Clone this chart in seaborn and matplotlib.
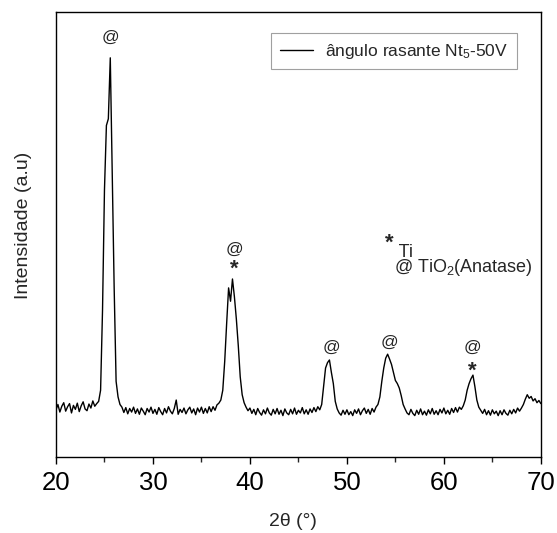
import numpy as np
import pandas as pd
import matplotlib
matplotlib.use("Agg")
import matplotlib.pyplot as plt
import seaborn as sns

# grade de medida 2theta (passo 0.2 grau)
two_theta = np.round(np.arange(20.0, 70.01, 0.2), 1)

# intensidade (u.a.), uma linha = 2 graus
intensity = [
    106, 118, 101, 114, 122, 103, 113, 120, 99, 116,    # 20
    107, 121, 102, 115, 124, 108, 104, 119, 110, 126,   # 22
    114, 120, 125, 150, 330, 600, 745, 760, 897, 640,   # 24
    380, 170, 135, 118, 112, 100, 111, 97, 109, 101,    # 26
    112, 98, 108, 96, 110, 103, 95, 109, 101, 112,      # 28
    98, 107, 96, 111, 102, 95, 109, 99, 113, 103,       # 30
    97, 109, 128, 96, 107, 100, 110, 97, 106, 112,      # 32
    99, 108, 95, 110, 101, 112, 98, 109, 99, 113,       # 34
    102, 113, 105, 117, 121, 128, 150, 215, 300, 380,   # 36
    350, 400, 360, 310, 250, 180, 140, 122, 112, 104,   # 38
    110, 98, 107, 95, 109, 100, 94, 106, 97, 110,       # 40
    99, 94, 107, 97, 109, 96, 105, 93, 108, 99,         # 42
    95, 107, 97, 110, 96, 105, 99, 111, 97, 106,        # 44
    96, 108, 100, 111, 102, 113, 106, 118, 160, 200,    # 46
    212, 218, 190, 165, 125, 108, 99, 94, 105, 96,      # 48
    106, 95, 102, 93, 106, 98, 108, 95, 104, 110,       # 50
    98, 107, 96, 109, 101, 112, 118, 135, 170, 200,     # 52
    222, 231, 220, 208, 190, 172, 165, 155, 138, 118,   # 54
    108, 99, 95, 107, 98, 93, 105, 96, 108, 95,         # 56
    103, 94, 106, 97, 109, 96, 104, 95, 107, 99,        # 58
    110, 97, 105, 96, 109, 100, 111, 101, 112, 107,     # 60
    115, 128, 150, 165, 176, 184, 158, 128, 112, 105,   # 62
    98, 107, 95, 104, 94, 106, 97, 103, 93, 104,        # 64
    95, 106, 98, 94, 105, 97, 107, 99, 110, 103,        # 66
    110, 118, 130, 140, 132, 136, 126, 131, 122, 127,   # 68
    120,                                                # 70
]

# marcadores de fase sobre os picos
anatase_pos = [25.57, 38.45, 48.45, 54.4, 62.9]
anatase_y = [944, 467, 247, 258, 247]
ti_pos = [38.35, 62.9]
ti_top = [445, 217]

xticks_major = [20, 30, 40, 50, 60, 70]
xticks_minor = [25, 35, 45, 55, 65]

sns.set_style("ticks")
plt.rcParams['font.family'] = ['Liberation Sans', 'DejaVu Sans']
plt.rcParams['mathtext.fontset'] = 'custom'
plt.rcParams['mathtext.rm'] = 'Liberation Sans'
plt.rcParams['mathtext.it'] = 'Liberation Sans:italic'

df = pd.DataFrame({'2theta': two_theta, 'I': intensity})

fig = plt.figure(figsize=(5.57, 5.33), dpi=100)
ax = fig.add_axes([0.1005, 0.1426, 0.8705, 0.8349])

sns.lineplot(data=df, x='2theta', y='I', color='black', lw=1.0, ax=ax,
             label='ângulo rasante Nt$_5$-50V')

ax.set_xlim(20, 70)
ax.set_ylim(0, 1000)
ax.set_xticks(xticks_major)
ax.set_xticks(xticks_minor, minor=True)
ax.set_yticks([])
ax.tick_params(axis='x', which='major', direction='out', length=5, width=1,
               labelsize=18.5, pad=5, colors='black')
ax.tick_params(axis='x', which='minor', direction='out', length=3.5, width=1)
for s in ax.spines.values():
    s.set_linewidth(1.0)
    s.set_color('black')

ax.set_xlabel('2θ (°)', fontsize=14)
ax.xaxis.set_label_coords(0.489, -0.145)
ax.xaxis.label.set_va('center')
ax.set_ylabel('Intensidade (a.u)', fontsize=14)
ax.yaxis.set_label_coords(-0.068, 0.52)
ax.yaxis.label.set_va('center')

for x, y in zip(anatase_pos, anatase_y):
    ax.text(x, y, '@', fontsize=12.5, ha='center', va='center')
for x, y in zip(ti_pos, ti_top):
    ax.text(x, y, '*', fontsize=16, ha='center', va='top', fontweight='bold')

# legenda das fases
ax.text(54.33, 504, '*', fontsize=16, ha='center', va='top', fontweight='bold')
ax.text(54.85, 441, ' Ti\n@ TiO$_2$(Anatase)', fontsize=13, ha='left', va='center',
        linespacing=0.72)

leg = ax.legend(loc='upper right', bbox_to_anchor=(0.95, 0.953), fontsize=12.5,
                frameon=True, fancybox=False, handlelength=1.9, handletextpad=0.7,
                borderpad=0.5, borderaxespad=0)
leg.get_frame().set_edgecolor('#888888')
leg.get_frame().set_linewidth(0.8)

fig.savefig('out.png', dpi=100)
